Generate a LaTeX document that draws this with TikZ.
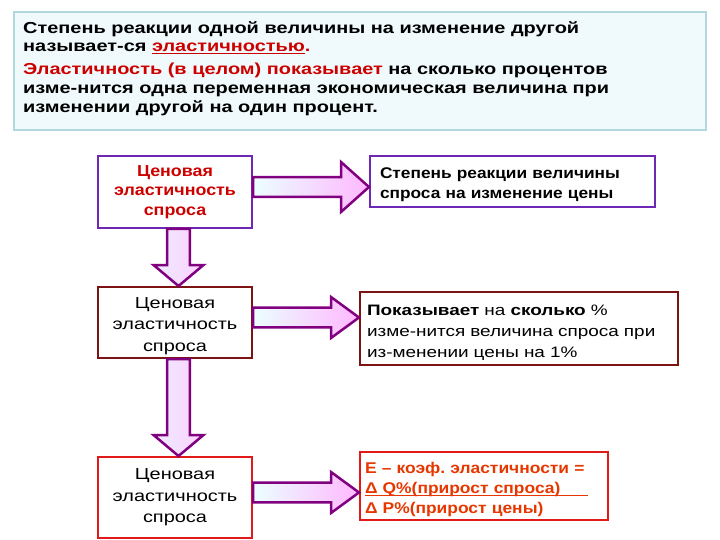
\documentclass[tikz,border=0pt]{standalone}
\usepackage{fontspec}
\setmainfont{Liberation Sans}
\newfontfamily\widefont[FakeStretch=1.25]{Liberation Sans}
\newfontfamily\midfont[FakeStretch=1.12]{Liberation Sans}
\frenchspacing
\definecolor{slidepurple}{RGB}{110,40,180}
\definecolor{slidemaroon}{RGB}{125,20,20}
\definecolor{slidered}{RGB}{225,25,25}
\definecolor{textred}{RGB}{205,0,0}
\definecolor{textorange}{RGB}{230,55,0}
\definecolor{arrowline}{RGB}{128,0,128}
\definecolor{headfill}{RGB}{240,250,252}
\definecolor{headline}{RGB}{178,216,222}
\usetikzlibrary{calc}

% underline drawn as a rule under the text
\newcommand{\thickunder}[2][0pt]{\leavevmode
  \setbox0\hbox{#2}\rlap{\rule[-2.5bp]{\dimexpr\wd0+#1\relax}{1.3bp}}\box0}

% block arrow between two boxes, from #1 to #2, head half-width #3
\newcommand{\flowright}[3]{%
  \draw[sidearrow] let \p1=($(#1.east)+(0,-5)$), \p2=(#2.west) in
    (\x1,\y1+10) -- (\x2-28,\y1+10) -- (\x2-28,\y1+#3) -- (\x2,\y1)
    -- (\x2-28,\y1-#3) -- (\x2-28,\y1-10) -- (\x1,\y1-10) -- cycle;}
\newcommand{\flowdown}[2]{%
  \draw[downarrow] let \p1=($(#1.south)+(3.5,0)$), \p2=(#2.north) in
    (\x1-11.5,\y1) -- (\x1-11.5,\y2+21) -- (\x1-25,\y2+21) -- (\x1,\y2)
    -- (\x1+25,\y2+21) -- (\x1+11.5,\y2+21) -- (\x1+11.5,\y1) -- cycle;}

\begin{document}
\begin{tikzpicture}[x=1bp,y=-1bp,
    box/.style={draw,line width=2bp,inner sep=0pt,align=center,
      font=\widefont\fontsize{16}{21.5}\selectfont},
    textbox/.style={draw,line width=2bp,inner ysep=0pt,align=left,
      font=\widefont\fontsize{15.2}{21.5}\selectfont},
    sidearrow/.style={draw=arrowline,line width=2.5bp,line join=miter,
      left color=cyan!8,right color=magenta!28},
    downarrow/.style={draw=arrowline,line width=2.5bp,line join=miter,
      left color=blue!8,right color=magenta!18}]
  \useasboundingbox (0,0) rectangle (720,540);

  %% header
  \node[draw=headline,line width=2.5bp,fill=headfill,minimum width=692bp,
    minimum height=118bp] (intro) at (360,71) {};
  \node[anchor=north west,inner sep=0pt,align=left,
    font=\widefont\bfseries\fontsize{16}{19}\selectfont] (introtext) at (23,21)
    {Степень реакции одной величины на изменение другой\\
     называет-ся {\color{textred}\thickunder{эластичностью}.}\\[3.5bp]
     {\color{textred}Эластичность (в целом) показывает} на сколько процентов\\
     изме-нится одна переменная экономическая величина при\\
     изменении другой на один процент.};

  %% left column
  \node[box,draw=slidepurple,minimum width=154bp,minimum height=72bp,
    text=textred,font=\midfont\bfseries\fontsize{16}{19.5}\selectfont] (demand1) at (175,192)
    {Ценовая\\эластичность\\спроса};
  \node[box,draw=slidemaroon,minimum width=154bp,minimum height=71bp] (demand2) at (175,322.5)
    {\rule{0pt}{17.5bp}Ценовая\\эластичность\\спроса};
  \node[box,draw=slidered,minimum width=154bp,minimum height=81bp] (demand3) at (175,497.5)
    {Ценовая\\эластичность\\спроса};

  %% right column
  \node[textbox,draw=slidepurple,text width=265bp,inner xsep=10bp,
    minimum height=51bp,font=\midfont\bfseries\fontsize{15.5}{20}\selectfont] (meaning) at (512.5,181.5)
    {\rule{0pt}{17.5bp}Степень реакции величины\\спроса на изменение цены};
  \node[textbox,draw=slidemaroon,text width=304bp,inner xsep=7bp,
    minimum height=73bp] (percent) at (519,328.5)
    {\rule{0pt}{19bp}\textbf{Показывает} на \textbf{сколько} \%\\
     изме-нится величина спроса при\\
     из-менении цены на 1\%};
  \node[textbox,draw=slidered,text width=238bp,inner xsep=5bp,
    minimum height=68bp,text=textorange,
    font=\midfont\bfseries\fontsize{15.6}{20}\selectfont] (formula) at (484,486)
    {\rule{0pt}{18bp}E – коэф. эластичности =\\
     \thickunder[28bp]{Δ Q\%(прирост спроса)}\\
     Δ P\%(прирост цены)};

  %% arrows
  \flowright{demand1}{meaning}{25}
  \flowright{demand2}{percent}{20.5}
  \flowright{demand3}{formula}{20.5}
  \flowdown{demand1}{demand2}
  \flowdown{demand2}{demand3}
\end{tikzpicture}
\end{document}
